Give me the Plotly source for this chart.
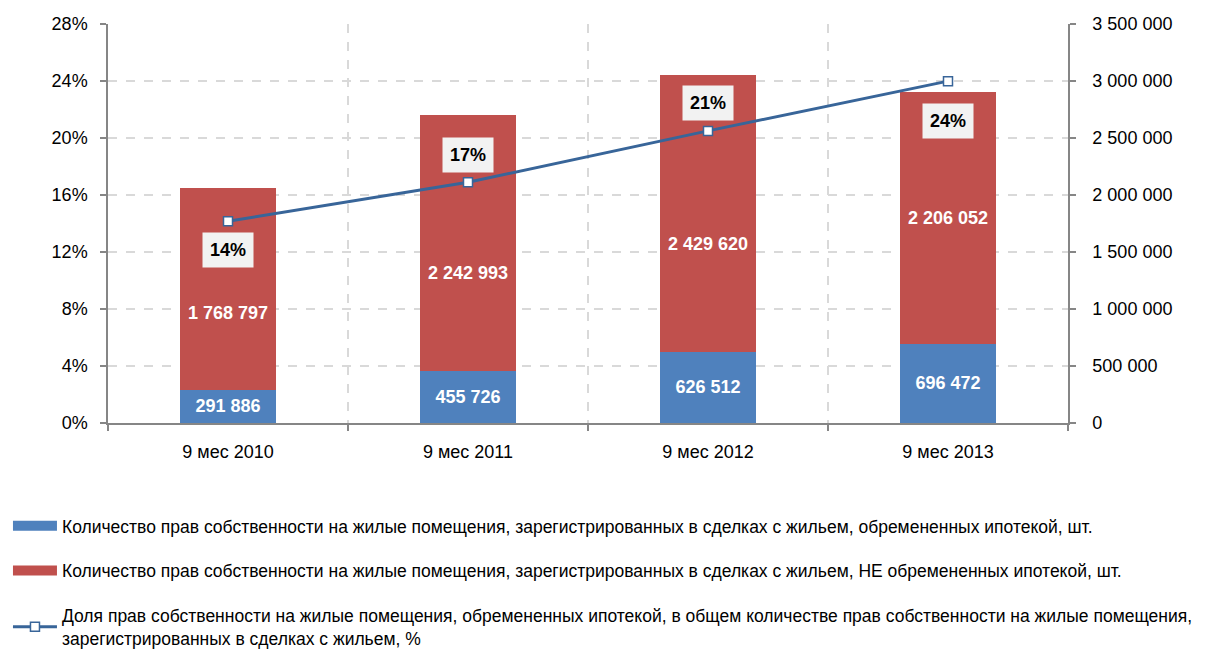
import plotly.graph_objects as go

categories = ["9 мес 2010", "9 мес 2011", "9 мес 2012", "9 мес 2013"]
mortgage = [291886, 455726, 626512, 696472]
non_mortgage = [1768797, 2242993, 2429620, 2206052]
share = [0.1416, 0.1689, 0.2050, 0.2399]
share_labels = ["14%", "17%", "21%", "24%"]
pct_ticks = [0, 0.04, 0.08, 0.12, 0.16, 0.20, 0.24, 0.28]
count_ticks = [0, 500000, 1000000, 1500000, 2000000, 2500000, 3000000, 3500000]
series_names = [
    "Количество прав собственности на жилые помещения, зарегистрированных в сделках с жильем, обремененных ипотекой, шт.",
    "Количество прав собственности на жилые помещения, зарегистрированных в сделках с жильем, НЕ обремененных ипотекой, шт.",
    "Доля прав собственности на жилые помещения, обремененных ипотекой, в общем количестве прав собственности на жилые помещения,<br>зарегистрированных в сделках с жильем, %",
]
# label offsets in pixels (style only)
red_label_shift = [-24, -30, -31, 0]
pct_label_shift = [-29, 27, 28, -40]

BLUE = "#4f81bd"
RED = "#c0504d"
LINE = "#386599"
AXIS = "#868686"
GRID = "#d9d9d9"
FONT = "Liberation Sans, Arial, sans-serif"

def fmt(v):
    return f"{v:,}".replace(",", " ")

x = list(range(len(categories)))

fig = go.Figure()
fig.add_trace(go.Bar(
    x=x, y=mortgage, name=series_names[0], marker=dict(color=BLUE, line=dict(width=0)),
    width=0.4, text=[fmt(v) for v in mortgage], textposition="inside",
    insidetextanchor="middle", textangle=0,
    textfont=dict(color="white", size=18, family=FONT, weight="bold"),
    yaxis="y", showlegend=False, hoverinfo="skip"))
fig.add_trace(go.Bar(
    x=x, y=non_mortgage, name=series_names[1], marker=dict(color=RED, line=dict(width=0)),
    width=0.4, yaxis="y", showlegend=False, hoverinfo="skip"))
fig.add_trace(go.Scatter(
    x=x, y=share, name=series_names[2], mode="lines+markers", yaxis="y2",
    line=dict(color=LINE, width=3),
    marker=dict(symbol="square", size=9, color="white", line=dict(color=LINE, width=1.5)),
    showlegend=False, hoverinfo="skip"))

# legend entries
fig.add_trace(go.Scatter(x=[None], y=[None], mode="lines", name=series_names[0],
                         line=dict(color=BLUE, width=12), legendgroup="a"))
fig.add_trace(go.Scatter(x=[None], y=[None], mode="lines", name=series_names[1],
                         line=dict(color=RED, width=12), legendgroup="b"))
fig.add_trace(go.Scatter(x=[None], y=[None], mode="lines+markers", name=series_names[2],
                         line=dict(color=LINE, width=3), legendgroup="c",
                         marker=dict(symbol="square", size=9, color="white", line=dict(color=LINE, width=1.5))))

annotations = []
for i in x:
    annotations.append(dict(
        x=i, y=mortgage[i] + non_mortgage[i] / 2, xref="x", yref="y",
        text=fmt(non_mortgage[i]), showarrow=False, yshift=red_label_shift[i],
        font=dict(color="white", size=18, family=FONT, weight="bold")))
    annotations.append(dict(
        x=i, y=share[i], xref="x", yref="y2", text=share_labels[i], showarrow=False,
        yshift=pct_label_shift[i], bgcolor="#f2f2f2", borderpad=7,
        font=dict(color="black", size=18, family=FONT, weight="bold")))

fig.update_layout(
    width=1216, height=643,
    margin=dict(l=100, r=156, t=16, b=228, autoexpand=False),
    paper_bgcolor="white", plot_bgcolor="white",
    barmode="stack", separators=", ",
    font=dict(family=FONT, size=16, color="black"),
    xaxis=dict(
        range=[-0.5, 3.5], tickmode="array", tickvals=x, ticktext=categories,
        showgrid=False, ticks="", showline=True, linecolor=AXIS, linewidth=1.5,
        tickfont=dict(size=18), zeroline=False, ticklabelstandoff=12, automargin=False,
        minor=dict(tickmode="linear", tick0=0.5, dtick=1, showgrid=True, gridcolor=GRID,
                   griddash="dash", gridwidth=1.5, ticks="outside", ticklen=6,
                   tickcolor=AXIS, tickwidth=1.5),
    ),
    yaxis=dict(
        side="right", range=[0, 3500000], tickmode="array", tickvals=count_ticks,
        tickformat=",d", showgrid=True, gridcolor=GRID, griddash="dash", gridwidth=1.5,
        showline=True, linecolor=AXIS, linewidth=1.5, ticks="outside", ticklen=6,
        tickcolor=AXIS, tickwidth=1.5, zeroline=False, tickfont=dict(size=18),
        ticklabelstandoff=13, automargin=False,
    ),
    yaxis2=dict(
        overlaying="y", side="left", range=[0, 0.28], tickmode="array", tickvals=pct_ticks,
        tickformat=".0%", showgrid=False, showline=True, linecolor=AXIS, linewidth=1.5,
        ticks="outside", ticklen=6, tickcolor=AXIS, tickwidth=1.5, zeroline=False,
        tickfont=dict(size=18), ticklabelstandoff=9, automargin=False,
    ),
    legend=dict(
        x=-0.1042, y=-0.213, xanchor="left", yanchor="top", orientation="v",
        font=dict(size=17.5), tracegroupgap=19, bgcolor="rgba(0,0,0,0)", itemwidth=44,
    ),
    annotations=annotations,
)

fig.write_html("out.html")
